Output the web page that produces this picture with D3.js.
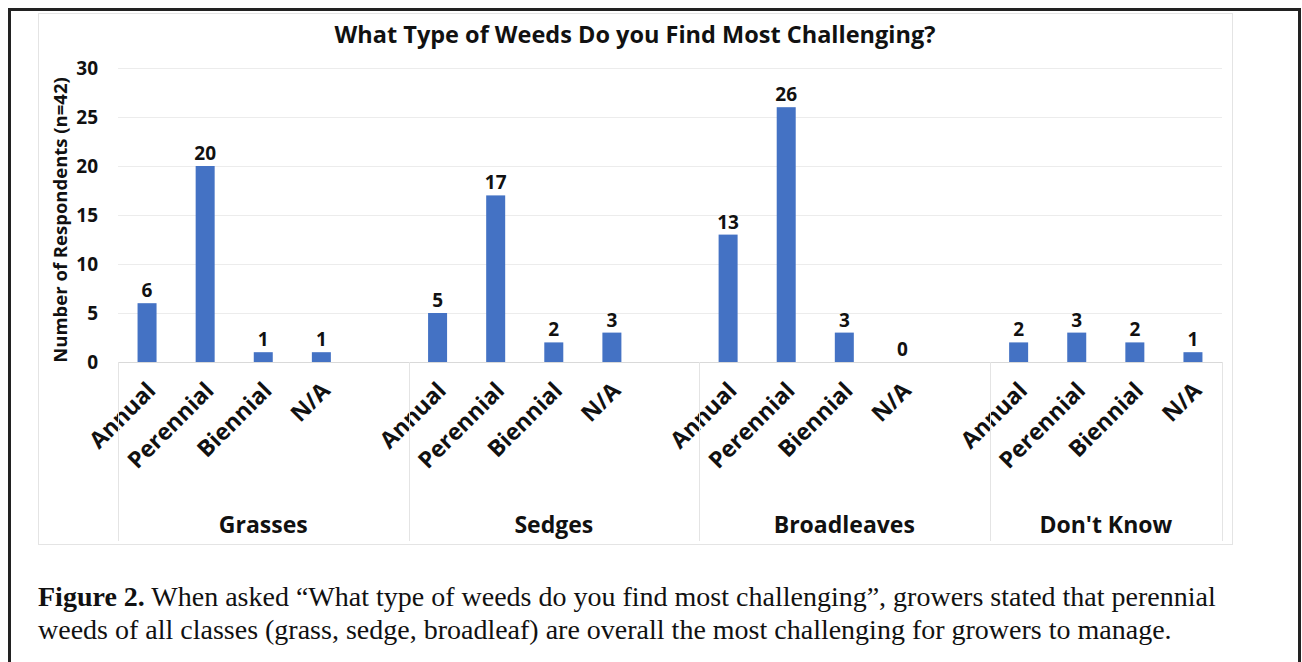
<!DOCTYPE html>
<html>
<head>
<meta charset="utf-8">
<script src="https://cdn.jsdelivr.net/npm/d3@7"></script>
<style>
  html, body { margin: 0; padding: 0; background: #fff; }
  svg { display: block; }
</style>
</head>
<body>
<svg id="chart" width="1302" height="662"></svg>
<script>
// data
var groups = ["Grasses", "Sedges", "Broadleaves", "Don't Know"];
var weedTypes = ["Annual", "Perennial", "Biennial", "N/A"];
var grasses = [6, 20, 1, 1];
var sedges = [5, 17, 2, 3];
var broadleaves = [13, 26, 3, 0];
var dontKnow = [2, 3, 2, 1];
var yTicks = [0, 5, 10, 15, 20, 25, 30];

var title = "What Type of Weeds Do you Find Most Challenging?";
var yTitle = "Number of Respondents (n=42)";

var groupValues = [grasses, sedges, broadleaves, dontKnow];

// flatten into slots; excel leaves an empty slot after each group but the last
var slots = [];
var rows = [];
groups.forEach(function(g, gi) {
  weedTypes.forEach(function(t, ti) {
    var key = g + "|" + t;
    slots.push(key);
    rows.push({ group: g, type: t, key: key, value: groupValues[gi][ti] });
  });
  if (gi < groups.length - 1) slots.push(g + "|gap");
});

var svg = d3.select("#chart");
var font = "'Open Sans', sans-serif";

// outer black frame
svg.append("rect")
  .attr("x", 9.5).attr("y", 9.5)
  .attr("width", 1290).attr("height", 700)
  .attr("fill", "none").attr("stroke", "#222").attr("stroke-width", 3);

// chart area border
svg.append("rect")
  .attr("x", 38.5).attr("y", 13.5)
  .attr("width", 1194).attr("height", 531)
  .attr("fill", "none").attr("stroke", "#e4e4e4").attr("stroke-width", 1);

var x = d3.scaleBand()
  .domain(slots)
  .range([118, 1222])
  .padding(0);

var y = d3.scaleLinear()
  .domain([0, 30])
  .range([362, 68]);

// gridlines
svg.append("g")
  .selectAll("line")
  .data(yTicks)
  .enter().append("line")
    .attr("x1", 118).attr("x2", 1222)
    .attr("y1", function(d) { return Math.round(y(d)) + 0.5; })
    .attr("y2", function(d) { return Math.round(y(d)) + 0.5; })
    .attr("stroke", function(d) { return d === 0 ? "#d9d9d9" : "#ececec"; })
    .attr("stroke-width", 1);

// y axis labels (no line)
var yAxis = svg.append("g")
  .attr("transform", "translate(118,0)")
  .call(d3.axisLeft(y).tickValues(yTicks).tickSize(0).tickPadding(20));
yAxis.select(".domain").remove();
yAxis.selectAll("text")
  .attr("font-family", font)
  .attr("font-weight", "bold")
  .attr("font-size", 19)
  .attr("fill", "#111");

// bars
var barW = 19;
svg.append("g")
  .selectAll("rect")
  .data(rows)
  .enter().append("rect")
    .attr("x", function(d) { return x(d.key) + x.bandwidth() / 2 - barW / 2; })
    .attr("y", function(d) { return y(d.value); })
    .attr("width", barW)
    .attr("height", function(d) { return y(0) - y(d.value); })
    .attr("fill", "#4472c4");

// value labels
svg.append("g")
  .selectAll("text")
  .data(rows)
  .enter().append("text")
    .attr("x", function(d) { return x(d.key) + x.bandwidth() / 2; })
    .attr("y", function(d) { return y(d.value) - 6; })
    .attr("text-anchor", "middle")
    .attr("font-family", font)
    .attr("font-weight", "bold")
    .attr("font-size", 19)
    .attr("fill", "#111")
    .text(function(d) { return d.value; });

// rotated category labels
svg.append("g")
  .selectAll("text")
  .data(rows)
  .enter().append("text")
    .attr("transform", function(d) {
      var cx = x(d.key) + x.bandwidth() / 2 + 10;
      return "translate(" + cx + ",392) rotate(-45)";
    })
    .attr("text-anchor", "end")
    .attr("font-family", font)
    .attr("font-weight", "bold")
    .attr("font-size", 23)
    .attr("fill", "#111")
    .text(function(d) { return d.type; });

// group separators and group labels
var groupStarts = groups.map(function(g) { return x(g + "|" + weedTypes[0]); });
var sepX = groupStarts.concat([1222]);

svg.append("g")
  .selectAll("line")
  .data(sepX)
  .enter().append("line")
    .attr("x1", function(d) { return Math.round(d) + 0.5; })
    .attr("x2", function(d) { return Math.round(d) + 0.5; })
    .attr("y1", 362).attr("y2", 541)
    .attr("stroke", "#e4e4e4");

svg.append("g")
  .selectAll("text")
  .data(groups)
  .enter().append("text")
    .attr("x", function(d, i) { return (sepX[i] + sepX[i + 1]) / 2; })
    .attr("y", 533)
    .attr("text-anchor", "middle")
    .attr("font-family", font)
    .attr("font-weight", "bold")
    .attr("font-size", 23)
    .attr("fill", "#111")
    .text(function(d) { return d; });

// chart title
svg.append("text")
  .attr("x", 635).attr("y", 43)
  .attr("text-anchor", "middle")
  .attr("font-family", font)
  .attr("font-weight", "bold")
  .attr("font-size", 23.5)
  .attr("fill", "#111")
  .text(title);

// y axis title
svg.append("text")
  .attr("transform", "translate(67,220) rotate(-90)")
  .attr("text-anchor", "middle")
  .attr("font-family", font)
  .attr("font-weight", "bold")
  .attr("font-size", 18.5)
  .attr("fill", "#111")
  .text(yTitle);

// figure caption
var cap = svg.append("text")
  .attr("font-family", "'Liberation Serif', 'Times New Roman', serif")
  .attr("font-size", 28)
  .attr("fill", "#111");
cap.append("tspan")
  .attr("x", 38).attr("y", 606)
  .attr("font-weight", "bold")
  .text("Figure 2.");
cap.append("tspan")
  .text(" When asked \u201cWhat type of weeds do you find most challenging\u201d, growers stated that perennial");
cap.append("tspan")
  .attr("x", 38).attr("y", 639)
  .text("weeds of all classes (grass, sedge, broadleaf) are overall the most challenging for growers to manage.");
</script>
</body>
</html>
